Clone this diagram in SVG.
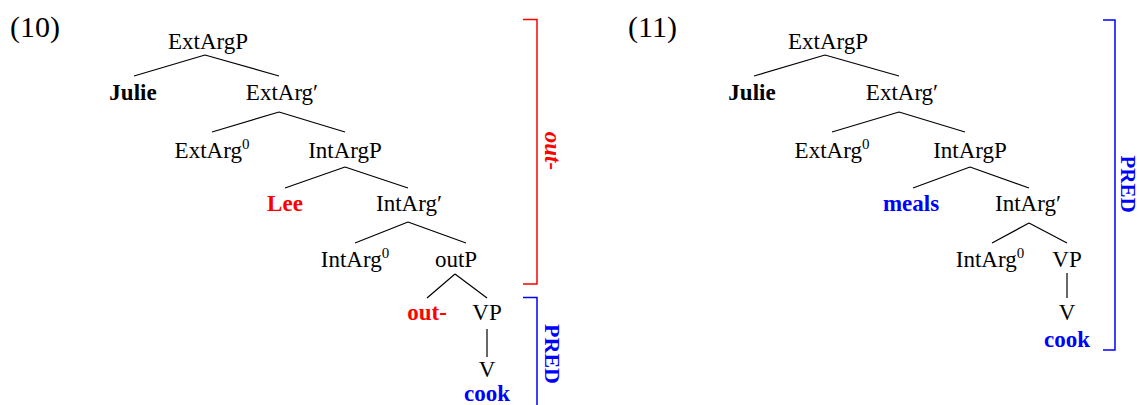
<svg xmlns="http://www.w3.org/2000/svg" width="1139" height="405" viewBox="0 0 1139 405">
<style>
text{font-family:"Liberation Serif","Times New Roman",serif;font-size:23px;fill:#000;text-anchor:middle}
.b{font-weight:bold}
.red{fill:#ff0000}
.blue{fill:#0000ff}
.num{font-size:30px;text-anchor:start}
.sup{font-size:15px}
.edge{stroke:#000;stroke-width:1.2;fill:none}
.brR{stroke:#ff0000;stroke-width:1.5;fill:none}
.brB{stroke:#0000ff;stroke-width:1.5;fill:none}
</style>
<rect width="1139" height="405" fill="#fff"/>
<text class="num" x="10" y="37">(10)</text>
<text class="num" x="628" y="37">(11)</text>
<g id="connectors">
<path class="edge" d="M205,55 L134,76 M205,55 L279,76"/>
<path class="edge" d="M279,112 L212,132 M279,112 L345,132"/>
<path class="edge" d="M345,167 L285,188 M345,167 L408,188"/>
<path class="edge" d="M408,222 L355,243 M408,222 L466,243"/>
<path class="edge" d="M455,274 L427,298 M455,274 L487,298"/>
<path class="edge" d="M487,329 L487,357"/>
<path class="edge" d="M825,55 L754,76 M825,55 L899,76"/>
<path class="edge" d="M899,112 L832,132 M899,112 L965,132"/>
<path class="edge" d="M970,167 L913,188 M970,167 L1029,188"/>
<path class="edge" d="M1029,223 L992,243 M1029,223 L1067,243"/>
<path class="edge" d="M1067,273 L1067,298"/>
</g>
<g id="t10-ExtArgP"><text x="208" y="49">ExtArgP</text></g>
<g id="t10-Julie"><text class="b" x="133" y="100">Julie</text></g>
<g id="t10-ExtArgBar"><text x="282" y="100">ExtArg′</text></g>
<g id="t10-ExtArg0"><text x="212" y="158">ExtArg<tspan class="sup" dy="-9">0</tspan></text></g>
<g id="t10-IntArgP"><text x="345" y="158">IntArgP</text></g>
<g id="t10-Lee"><text class="b red" x="285" y="211">Lee</text></g>
<g id="t10-IntArgBar"><text x="409" y="211">IntArg′</text></g>
<g id="t10-IntArg0"><text x="355" y="267">IntArg<tspan class="sup" dy="-9">0</tspan></text></g>
<g id="t10-outP"><text x="456" y="267">outP</text></g>
<g id="t10-out"><text class="b red" x="427" y="320">out-</text></g>
<g id="t10-VP"><text x="487" y="320">VP</text></g>
<g id="t10-V"><text x="487" y="377">V</text></g>
<g id="t10-cook"><text class="b blue" x="487" y="401">cook</text></g>
<g id="t10-bracket-out">
<path class="brR" d="M523,19.5 H537 V284 H523"/>
<text class="b red" font-style="italic" transform="translate(545,151) rotate(90)" x="0" y="0">out-</text>
</g>
<g id="t10-bracket-pred">
<path class="brB" d="M523,297.5 H537 V406"/>
<text class="b blue" style="font-size:22px" transform="translate(545,354) rotate(90)" x="0" y="0">PRED</text>
</g>
<g id="t11-ExtArgP"><text x="828" y="49">ExtArgP</text></g>
<g id="t11-Julie"><text class="b" x="752" y="100">Julie</text></g>
<g id="t11-ExtArgBar"><text x="902" y="100">ExtArg′</text></g>
<g id="t11-ExtArg0"><text x="832" y="158">ExtArg<tspan class="sup" dy="-9">0</tspan></text></g>
<g id="t11-IntArgP"><text x="970" y="158">IntArgP</text></g>
<g id="t11-meals"><text class="b blue" x="911" y="211">meals</text></g>
<g id="t11-IntArgBar"><text x="1028" y="211">IntArg′</text></g>
<g id="t11-IntArg0"><text x="990" y="267">IntArg<tspan class="sup" dy="-9">0</tspan></text></g>
<g id="t11-VP"><text x="1067" y="267">VP</text></g>
<g id="t11-V"><text x="1067" y="320">V</text></g>
<g id="t11-cook"><text class="b blue" x="1067" y="347">cook</text></g>
<g id="t11-bracket-pred">
<path class="brB" d="M1103,20 H1115 V350 H1103"/>
<text class="b blue" style="font-size:21px" transform="translate(1121,184) rotate(90)" x="0" y="0">PRED</text>
</g>
</svg>
